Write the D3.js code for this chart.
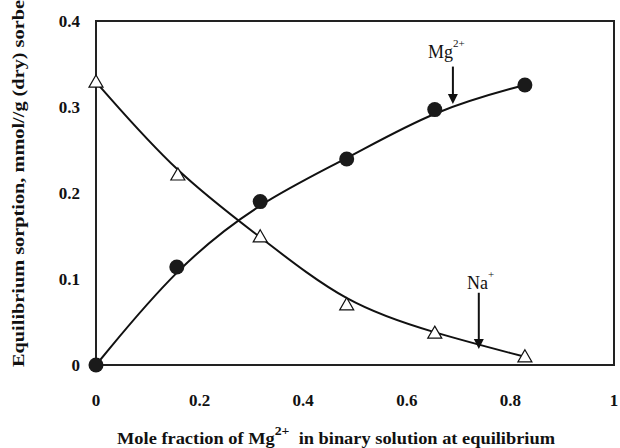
<!DOCTYPE html>
<html>
<head>
<meta charset="utf-8">
<script src="https://cdn.jsdelivr.net/npm/d3@7"></script>
<style>
  body { margin: 0; background: #fff; }
  text { font-family: "Liberation Serif", "DejaVu Serif", serif; }
</style>
</head>
<body>
<script>
// mole fraction of Mg2+ in solution
const mgX = [0, 0.156, 0.317, 0.484, 0.654, 0.828];
const mgY = [0, 0.114, 0.190, 0.2395, 0.297, 0.3256];
const naX = [0, 0.158, 0.317, 0.484, 0.654, 0.828];
const naY = [0.329, 0.221, 0.149, 0.070, 0.037, 0.0095];
const xTicks = [0, 0.2, 0.4, 0.6, 0.8, 1];
const yTicks = [0, 0.1, 0.2, 0.3, 0.4];

const width = 620, height = 448;
const margins = {top: 21, bottom: 83, left: 96, right: 6};

const svg = d3.select('body').append('svg')
    .attr('width', width)
    .attr('height', height);

const x_scale = d3.scaleLinear().domain([0, 1]).range([margins.left, width - margins.right]);
const y_scale = d3.scaleLinear().domain([0, 0.4]).range([height - margins.bottom, margins.top]);

// frame
svg.append('rect')
    .attr('x', x_scale(0)).attr('y', y_scale(0.4))
    .attr('width', x_scale(1) - x_scale(0))
    .attr('height', y_scale(0) - y_scale(0.4))
    .attr('fill', 'none')
    .attr('stroke', '#222')
    .attr('stroke-width', 2);

// tick labels
svg.selectAll('.xt').data(xTicks).enter().append('text')
    .attr('x', d => x_scale(d))
    .attr('y', y_scale(0) + 41)
    .attr('text-anchor', 'middle')
    .attr('font-size', 17).attr('font-weight', 'bold')
    .attr('fill', '#111')
    .text(d => d3.format('~g')(d));

svg.selectAll('.yt').data(yTicks).enter().append('text')
    .attr('x', x_scale(0) - 16)
    .attr('y', d => y_scale(d) + 6)
    .attr('text-anchor', 'end')
    .attr('font-size', 17).attr('font-weight', 'bold')
    .attr('fill', '#111')
    .text(d => d3.format('~g')(d));

// axis titles
const xt = svg.append('text')
    .attr('x', 117).attr('y', 444)
    .attr('font-size', 16).attr('font-weight', 'bold')
    .attr('textLength', 438).attr('lengthAdjust', 'spacingAndGlyphs')
    .attr('fill', '#111');
xt.append('tspan').text('Mole fraction of Mg');
xt.append('tspan').attr('font-size', 12).attr('dy', -9).text('2+');
xt.append('tspan').attr('dy', 9).text('\u00a0\u00a0in binary solution at equilibrium');

svg.append('text')
    .attr('transform', 'translate(24,367) rotate(-90)')
    .attr('font-size', 16).attr('font-weight', 'bold')
    .attr('textLength', 385).attr('lengthAdjust', 'spacingAndGlyphs')
    .attr('fill', '#111')
    .text('Equilibrium sorption, mmol//g (dry) sorbent');

// curves
const mgData = mgX.map((v, i) => ({x: v, y: mgY[i]}));
const naData = naX.map((v, i) => ({x: v, y: naY[i]}));
const line = d3.line().x(d => x_scale(d.x)).y(d => y_scale(d.y)).curve(d3.curveBasis);

svg.append('path').datum(mgData).attr('d', line)
    .attr('fill', 'none').attr('stroke', '#111').attr('stroke-width', 2);
svg.append('path').datum(naData).attr('d', line)
    .attr('fill', 'none').attr('stroke', '#111').attr('stroke-width', 2);

// markers
svg.selectAll('.mg').data(mgData).enter().append('circle')
    .attr('cx', d => x_scale(d.x)).attr('cy', d => y_scale(d.y))
    .attr('r', 7.5).attr('fill', '#1a1a1a');

const tri = d3.symbol().type(d3.symbolTriangle).size(85);
svg.selectAll('.na').data(naData).enter().append('path')
    .attr('d', tri)
    .attr('transform', d => 'translate(' + x_scale(d.x) + ',' + (y_scale(d.y) + 1) + ')')
    .attr('fill', '#fff').attr('stroke', '#111').attr('stroke-width', 1.2);

// annotations
const notes = [
    {name: 'Mg', sup: '2+', x: 0.689, tail: 0.347, tip: 0.3035, tx: 428, ty: 58},
    {name: 'Na', sup: '+', x: 0.739, tail: 0.084, tip: 0.0186, tx: 467, ty: 289}
];
notes.forEach(n => {
    const ax = x_scale(n.x);
    svg.append('line')
        .attr('x1', ax).attr('x2', ax)
        .attr('y1', y_scale(n.tail)).attr('y2', y_scale(n.tip) - 8)
        .attr('stroke', '#111').attr('stroke-width', 2);
    const ty = y_scale(n.tip);
    svg.append('path')
        .attr('d', 'M' + (ax - 5) + ',' + (ty - 10) + 'L' + (ax + 5) + ',' + (ty - 10) + 'L' + ax + ',' + ty + 'Z')
        .attr('fill', '#111');
    const t = svg.append('text')
        .attr('x', n.tx).attr('y', n.ty)
        .attr('font-size', 18).attr('fill', '#111');
    t.append('tspan').text(n.name);
    t.append('tspan').attr('font-size', 11).attr('dy', -11).text(n.sup);
});
</script>
</body>
</html>
